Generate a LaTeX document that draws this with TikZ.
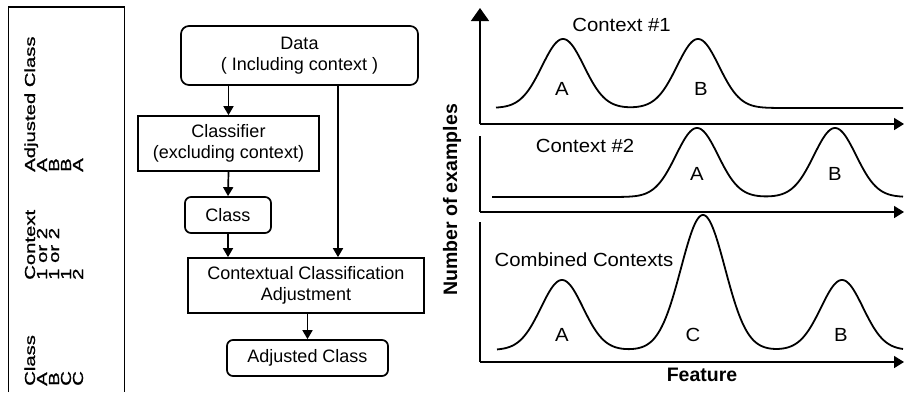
\documentclass[tikz,border=0pt]{standalone}
\usepackage{fontspec}
\setmainfont{Liberation Sans}
\newfontfamily\tabfont{Liberation Sans}[FakeStretch=1.4,FakeBold=1.2]
\newfontfamily\plotfont{Liberation Sans}[FakeStretch=1.07]
\usetikzlibrary{arrows.meta,calc}

\begin{document}
\begin{tikzpicture}[x=1pt,y=-1pt,
  tabtext/.style={rotate=90, anchor=base west, inner sep=0pt,
    font=\tabfont\fontsize{14.5}{15}\selectfont},
  flowbox/.style={draw, line width=1.7pt, align=center, inner sep=0pt,
    font=\fontsize{18}{21}\selectfont},
  roundbox/.style={flowbox, rounded corners=7pt},
  flowarrow/.style={line width=1.7pt, -{Triangle[length=9pt,width=10pt]}},
  axisline/.style={line width=1.6pt},
  axisarrow/.style={line width=1.6pt, -{Triangle[length=10pt,width=12pt]}},
  curve/.style={line width=1.8pt, line join=round},
  plotlabel/.style={anchor=base, inner sep=0pt,
    font=\plotfont\fontsize{19}{22}\selectfont},
  axislabel/.style={anchor=base, inner sep=0pt,
    font=\bfseries\fontsize{19.5}{22}\selectfont},
]
\useasboundingbox (0,0) rectangle (904,392);

% ---------- rotated table ----------
\draw[line width=1.8pt] (8.5,392) -- (8.5,7) -- (124.5,7) -- (124.5,392);
\node[tabtext] (hclass) at (35,386) {Class};
\node[tabtext] (hctx)   at (35,280) {Context};
\node[tabtext] (hadj)   at (35,172) {Adjusted Class};
\node[tabtext] (c1) at (47,386) {A};
\node[tabtext] (c2) at (59,386) {B};
\node[tabtext] (c3) at (71,386) {C};
\node[tabtext] (c4) at (83,386) {C};
\node[tabtext] (x1) at (47,280) {1 or 2};
\node[tabtext] (x2) at (59,280) {1 or 2};
\node[tabtext] (x3) at (71,280) {1};
\node[tabtext] (x4) at (83,280) {2};
\node[tabtext] (a1) at (47,172) {A};
\node[tabtext] (a2) at (59,172) {B};
\node[tabtext] (a3) at (71,172) {B};
\node[tabtext] (a4) at (83,172) {A};

% ---------- flow chart ----------
\node[roundbox, minimum width=237pt, minimum height=59pt, rounded corners=8pt]
  (data) at (299.5,55.5) {Data\\( Including context )};
\node[flowbox, minimum width=181pt, minimum height=55pt]
  (clf) at (228.5,143.5) {Classifier\\(excluding context)};
\node[roundbox, minimum width=86pt, minimum height=36pt, rounded corners=6pt]
  (cls) at (228,215) {Class};
\node[flowbox, minimum width=236pt, minimum height=55pt]
  (cca) at (306,285.5) {Contextual Classification\\Adjustment};
\node[roundbox, minimum width=161pt, minimum height=36pt, rounded corners=6pt]
  (adj) at (307.5,358) {Adjusted Class};

\draw[flowarrow] (data.south -| clf.north) -- (clf.north);
\draw[flowarrow] (clf.south) -- (cls.north);
\draw[flowarrow] (cls.south) -- (cls.south |- cca.north);
\draw[flowarrow] ([xshift=38.5pt]data.south) -- ([xshift=38.5pt]data.south |- cca.north);
\draw[flowarrow] (cca.south -| adj.north) -- (adj.north);

% ---------- distributions ----------
% axes
\coordinate (o1) at (480,124);
\coordinate (o2) at (480,212);
\coordinate (o3) at (480,362);
\draw[line width=1.6pt, -{Triangle[length=13pt,width=18pt]}] (o1) -- (480,8);
\draw[axisarrow] (o1) -- (904,124);
\draw[axisline] (480,136) -- (o2);
\draw[axisarrow] (o2) -- (904,212);
\draw[axisline] (480,222) -- (o3);
\draw[axisarrow] (o3) -- (904,362);

% context 1
\draw[curve] plot[domain=496:903, samples=300]
  (\x, {108 - 69*exp(-((\x-563)/21)^2/2) - 69*exp(-((\x-698)/21)^2/2)});
% context 2
\draw[curve] plot[domain=492:903, samples=300]
  (\x, {197 - 69*exp(-((\x-697)/21)^2/2) - 69*exp(-((\x-835)/21)^2/2)});
% combined
\draw[curve] plot[domain=497:903, samples=400]
  (\x, {350 - 70*exp(-((\x-562)/21)^2/2) - 135*exp(-((\x-703)/22)^2/2)
        - 70*exp(-((\x-842)/21)^2/2)});

\node[plotlabel] (t1) at (621.5,31) {Context \#1};
\node[plotlabel] (t2) at (585,152) {Context \#2};
\node[plotlabel] (t3) at (584,266) {Combined Contexts};

\node[plotlabel] (p1a) at (562,95) {A};
\node[plotlabel] (p1b) at (701,95) {B};
\node[plotlabel] (p2a) at (697,180) {A};
\node[plotlabel] (p2b) at (835,180) {B};
\node[plotlabel] (p3a) at (562,341) {A};
\node[plotlabel] (p3c) at (693,341) {C};
\node[plotlabel] (p3b) at (841,341) {B};

\node[axislabel] (feat) at (702,381) {Feature};
\node[axislabel, rotate=90] (nex) at (457,200) {Number of examples};
\end{tikzpicture}
\end{document}
